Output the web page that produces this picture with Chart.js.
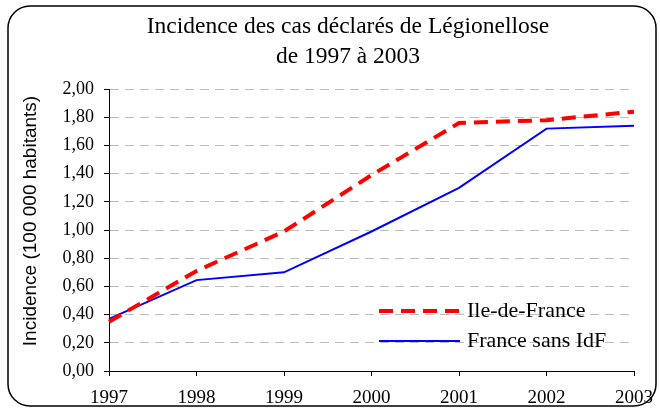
<!DOCTYPE html>
<html>
<head>
<meta charset="utf-8">
<script src="https://cdn.jsdelivr.net/npm/chart.js@4/dist/chart.umd.min.js"></script>
<style>
html,body{margin:0;padding:0;background:#fff;}
#wrap{position:relative;width:660px;height:409px;}
</style>
</head>
<body>
<div id="wrap"><canvas id="c" width="660" height="409"></canvas></div>
<script>
const years = ['1997','1998','1999','2000','2001','2002','2003'];
const ileDeFrance = [0.35, 0.71, 0.99, 1.39, 1.76, 1.78, 1.84];
const franceSansIdf = [0.37, 0.645, 0.70, 0.99, 1.30, 1.72, 1.74];
const seriesNames = ['Ile-de-France', 'France sans IdF'];
const titleLines = ['Incidence des cas déclarés de Légionellose', 'de 1997 à 2003'];
const yAxisTitle = 'Incidence (100 000 habitants)';

const serif = "'Liberation Serif', 'Times New Roman', serif";
const sans = "'Liberation Sans', Arial, sans-serif";

const frame = {
  id: 'frame',
  beforeDraw(chart) {
    const ctx = chart.ctx;
    ctx.save();
    ctx.fillStyle = '#fff';
    ctx.fillRect(0, 0, chart.width, chart.height);
    ctx.strokeStyle = '#000';
    ctx.lineWidth = 1.5;
    const x = 8, y = 6, w = 648, h = 400, r = 22;
    ctx.beginPath();
    ctx.moveTo(x + r, y);
    ctx.lineTo(x + w - r, y);
    ctx.arcTo(x + w, y, x + w, y + r, r);
    ctx.lineTo(x + w, y + h - r);
    ctx.arcTo(x + w, y + h, x + w - r, y + h, r);
    ctx.lineTo(x + r, y + h);
    ctx.arcTo(x, y + h, x, y + h - r, r);
    ctx.lineTo(x, y + r);
    ctx.arcTo(x, y, x + r, y, r);
    ctx.closePath();
    ctx.stroke();
    ctx.restore();
  }
};

const yTitle = {
  id: 'yTitle',
  afterDraw(chart) {
    const ctx = chart.ctx;
    ctx.save();
    ctx.translate(31, 221);
    ctx.rotate(-Math.PI / 2);
    ctx.fillStyle = '#000';
    ctx.font = "19px " + sans;
    ctx.textAlign = 'center';
    ctx.textBaseline = 'middle';
    ctx.fillText(yAxisTitle, 0, 0);
    ctx.restore();
  }
};

const innerLegend = {
  id: 'innerLegend',
  afterDraw(chart) {
    const ctx = chart.ctx;
    const ds = chart.data.datasets;
    const x0 = 379, x1 = 460, tx = 467;
    const ys = [311, 341];
    ctx.save();
    ds.forEach((d, i) => {
      ctx.beginPath();
      ctx.strokeStyle = d.borderColor;
      ctx.lineWidth = d.borderWidth;
      ctx.setLineDash(d.borderDash || []);
      ctx.moveTo(x0, ys[i]);
      ctx.lineTo(x1, ys[i]);
      ctx.stroke();
      ctx.setLineDash([]);
      ctx.fillStyle = '#000';
      ctx.font = "22px " + serif;
      ctx.textBaseline = 'middle';
      ctx.textAlign = 'left';
      ctx.fillText(d.label, tx, ys[i]);
    });
    ctx.restore();
  }
};

new Chart(document.getElementById('c'), {
  type: 'line',
  data: {
    labels: years,
    datasets: [
      {
        label: seriesNames[0],
        data: ileDeFrance,
        borderColor: '#ff0000',
        borderWidth: 4,
        borderDash: [14, 8],
        pointRadius: 0,
        fill: false,
        tension: 0
      },
      {
        label: seriesNames[1],
        data: franceSansIdf,
        borderColor: '#0000ff',
        borderWidth: 2,
        pointRadius: 0,
        fill: false,
        tension: 0
      }
    ]
  },
  options: {
    responsive: false,
    animation: false,
    devicePixelRatio: 1,
    layout: { padding: { left: 62, right: 26, top: 7, bottom: 0 } },
    plugins: {
      legend: { display: false },
      tooltip: { enabled: false },
      title: {
        display: true,
        text: titleLines,
        color: '#000',
        font: { family: serif, size: 23.5, weight: 'normal', lineHeight: 1.28 },
        padding: { top: 5, bottom: 17 }
      }
    },
    scales: {
      x: {
        offset: false,
        grid: {
          display: true,
          drawOnChartArea: false,
          drawTicks: true,
          tickLength: 5,
          tickColor: '#000'
        },
        border: { display: true, color: '#000', width: 1 },
        ticks: {
          color: '#000',
          font: { family: serif, size: 19 },
          padding: 11,
          maxRotation: 0,
          autoSkip: false
        },
        afterFit(scale) {
          scale.height = 38;
          scale.paddingLeft = 0;
          scale.paddingRight = 0;
        }
      },
      y: {
        min: 0,
        max: 2,
        grid: {
          color: (c) => (c.tick && c.tick.value === 0 ? 'rgba(0,0,0,0)' : '#bcbcbc'),
          lineWidth: 1,
          drawTicks: true,
          tickLength: 5,
          tickColor: '#000'
        },
        border: { display: true, color: '#000', width: 1, dash: [9, 6] },
        ticks: {
          stepSize: 0.2,
          color: '#000',
          font: { family: serif, size: 18 },
          padding: 10,
          callback: (v) => Number(v).toFixed(2).replace('.', ',')
        },
        afterFit(scale) {
          scale.width = 47;
          scale.paddingTop = 0;
          scale.paddingBottom = 0;
        }
      }
    }
  },
  plugins: [frame, yTitle, innerLegend]
});
</script>
</body>
</html>
